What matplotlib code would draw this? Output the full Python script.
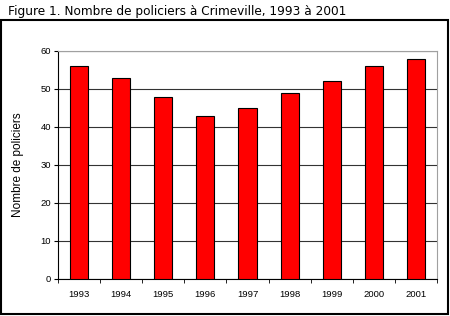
import matplotlib
matplotlib.use("Agg")
import matplotlib.pyplot as plt
from matplotlib.patches import Rectangle

years = ["1993", "1994", "1995", "1996", "1997", "1998", "1999", "2000", "2001"]
policiers = [56, 53, 48, 43, 45, 49, 52, 56, 58]
y_ticks = [0, 10, 20, 30, 40, 50, 60]

W, H = 450, 316
fig = plt.figure(figsize=(W / 100, H / 100), dpi=100)

# outer frame below the title
fig.patches.append(Rectangle((1 / W, 2 / H), 447 / W, 294 / H, transform=fig.transFigure,
                             fill=False, edgecolor="black", linewidth=1.5))

fig.text(8 / W, 1 - 11 / H, "Figure 1. Nombre de policiers à Crimeville, 1993 à 2001",
         fontsize=8.7, family="DejaVu Sans", va="center", ha="left")

# plot area
ax = fig.add_axes([58 / W, 1 - 279 / H, (437 - 58) / W, (279 - 51) / H])
x = range(len(years))
ax.bar(x, policiers, width=0.43, color="#ff0000", edgecolor="black", linewidth=0.8, zorder=3)

ax.set_xlim(-0.5, len(years) - 0.5)
ax.set_ylim(0, 60)
ax.set_yticks(y_ticks)
ax.set_yticklabels([str(t) for t in y_ticks], fontsize=6.8, family="Liberation Sans")
ax.set_xticks(list(x))
ax.set_xticklabels(years, fontsize=6.8, family="Liberation Sans")
ax.tick_params(axis="x", length=0, pad=8)
ax.set_xticks([i + 0.5 for i in range(-1, len(years))], minor=True)
ax.tick_params(axis="x", which="minor", length=3, direction="out", color="black")
ax.tick_params(axis="y", length=3, direction="out", pad=2)

ax.yaxis.grid(True, color="#333333", linewidth=0.8, zorder=0)
ax.set_axisbelow(True)
for s in ["top", "right"]:
    ax.spines[s].set_color("#a0a0a0")
    ax.spines[s].set_linewidth(0.8)
for s in ["left", "bottom"]:
    ax.spines[s].set_color("black")
    ax.spines[s].set_linewidth(0.8)

ax.set_ylabel("Nombre de policiers", fontsize=8.5, family="Liberation Sans", labelpad=12)

fig.savefig("out.png", dpi=100)
